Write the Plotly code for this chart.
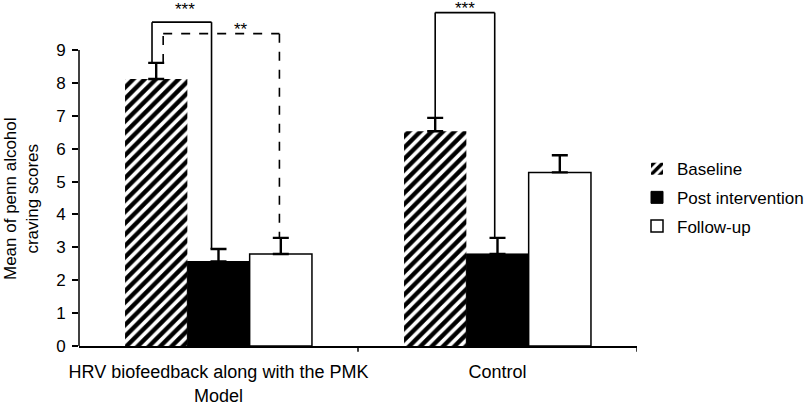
import plotly.graph_objects as go

# ---- data ----
categories = ["HRV biofeedback along with the PMK<br>Model", "Control"]
series_names = ["Baseline", "Post intervention", "Follow-up"]
baseline = [8.12, 6.53]
baseline_err = [0.49, 0.41]
post = [2.57, 2.80]
post_err = [0.38, 0.49]
follow = [2.80, 5.28]
follow_err = [0.49, 0.52]
y_ticks = [0, 1, 2, 3, 4, 5, 6, 7, 8, 9]

FONT = "Liberation Sans, Arial, sans-serif"
FS = 17
BARGAP = 0.33

fig = go.Figure()
err_style = dict(type="data", symmetric=False, color="black", thickness=2.4, width=8)

fig.add_bar(
    name=series_names[0], x=[0, 1], y=baseline, legendgroup="a",
    marker=dict(color="white", line=dict(width=0),
                pattern=dict(shape="/", fgcolor="black", bgcolor="white", size=8, solidity=0.55,
                             fgopacity=1)),
    error_y=dict(array=baseline_err, arrayminus=[0, 0], **err_style),
)
fig.add_bar(
    name=series_names[1], x=[0, 1], y=post, legendgroup="b",
    marker=dict(color="black", line=dict(color="black", width=1)),
    error_y=dict(array=post_err, arrayminus=[0, 0], **err_style),
)
fig.add_bar(
    name=series_names[2], x=[0, 1], y=follow, legendgroup="c",
    marker=dict(color="white", line=dict(color="black", width=1.5)),
    error_y=dict(array=follow_err, arrayminus=[0, 0], **err_style),
)

# bar centre offsets within a category (grouped bars, 3 series)
w = (1 - BARGAP) / 3
offs = [-w, 0, w]

def top(series, err, i):
    return series[i] + err[i]

shapes = []
annotations = []

def bracket(x0, y0, x1, y1, yh, dash, label, label_x, lshift):
    line = dict(color="black", width=1.6, dash=dash)
    shapes.append(dict(type="line", xref="x", yref="y", x0=x0, x1=x0, y0=y0, y1=yh, line=line))
    shapes.append(dict(type="line", xref="x", yref="y", x0=x0, x1=x1, y0=yh, y1=yh, line=line))
    shapes.append(dict(type="line", xref="x", yref="y", x0=x1, x1=x1, y0=yh, y1=y1, line=line))
    annotations.append(dict(x=label_x, y=yh, xref="x", yref="y", text=label, showarrow=False,
                            yanchor="bottom", yshift=lshift, font=dict(family=FONT, size=17, color="black")))

d = 0.015
# HRV: baseline vs post (***), baseline vs follow-up (**)
xa = 0 + offs[0] - d
xb = 0 + offs[1] - 0.025
bracket(xa, top(baseline, baseline_err, 0), xb, top(post, post_err, 0), 9.85, "solid", "***",
        (xa + xb) / 2 + 0.01, 1)
xa2 = 0 + offs[0] + 0.025
xc = 0 + offs[2] - 0.005
bracket(xa2, top(baseline, baseline_err, 0), xc, top(follow, follow_err, 0), 9.50, "dash", "**",
        (xa2 + 2 * xc) / 3, -7)
# Control: baseline vs post (***)
xa3 = 1 + offs[0]
xb3 = 1 + offs[1] - 0.01
bracket(xa3, top(baseline, baseline_err, 1), xb3, top(post, post_err, 1), 10.14, "solid", "***",
        (xa3 + xb3) / 2, -7)

# y axis line only from 0 to 9
shapes.append(dict(type="line", xref="paper", yref="y", x0=0, x1=0, y0=-0.12, y1=y_ticks[-1],
                   line=dict(color="black", width=1.5)))
# boundary ticks on x axis
for xb_ in [0.5, 1.5]:
    shapes.append(dict(type="line", xref="x", yref="paper", x0=xb_, x1=xb_, y0=0, y1=-0.017,
                       line=dict(color="black", width=1.5)))

# y axis title
annotations.append(dict(x=-0.104, y=4.5, xref="paper", yref="y", text="Mean of penn alcohol<br>craving scores",
                        textangle=-90, showarrow=False, xanchor="center", yanchor="middle",
                        font=dict(family=FONT, size=FS, color="black")))

fig.update_layout(
    width=810, height=405,
    margin=dict(l=79, r=173, t=9, b=59, autoexpand=False),
    paper_bgcolor="white", plot_bgcolor="white",
    barmode="group", bargap=BARGAP, bargroupgap=0,
    font=dict(family=FONT, size=FS, color="black"),
    shapes=shapes, annotations=annotations,
    legend=dict(x=1.0, xanchor="left", y=0.44, yanchor="middle", yref="paper",
                tracegroupgap=3.5, font=dict(family=FONT, size=FS, color="black"),
                itemwidth=30, bgcolor="rgba(0,0,0,0)"),
)
fig.update_xaxes(
    type="linear", range=[-0.5, 1.5], tickvals=[0, 1], ticktext=categories,
    showline=True, linecolor="black", linewidth=1.5, showgrid=False, zeroline=False,
    ticks="", ticklabelstandoff=9, tickfont=dict(family=FONT, size=18, color="black"), automargin=False,
)
fig.update_yaxes(
    range=[0, 10.25], tickvals=y_ticks, showline=False, showgrid=False, zeroline=False,
    ticks="outside", ticklen=6, tickwidth=1.5, tickcolor="black", automargin=False,
    ticklabelstandoff=3, tickfont=dict(family=FONT, size=FS, color="black"),
)

fig.write_html("out.html", config={"displayModeBar": False},
               post_script="document.body.style.margin='0';")
